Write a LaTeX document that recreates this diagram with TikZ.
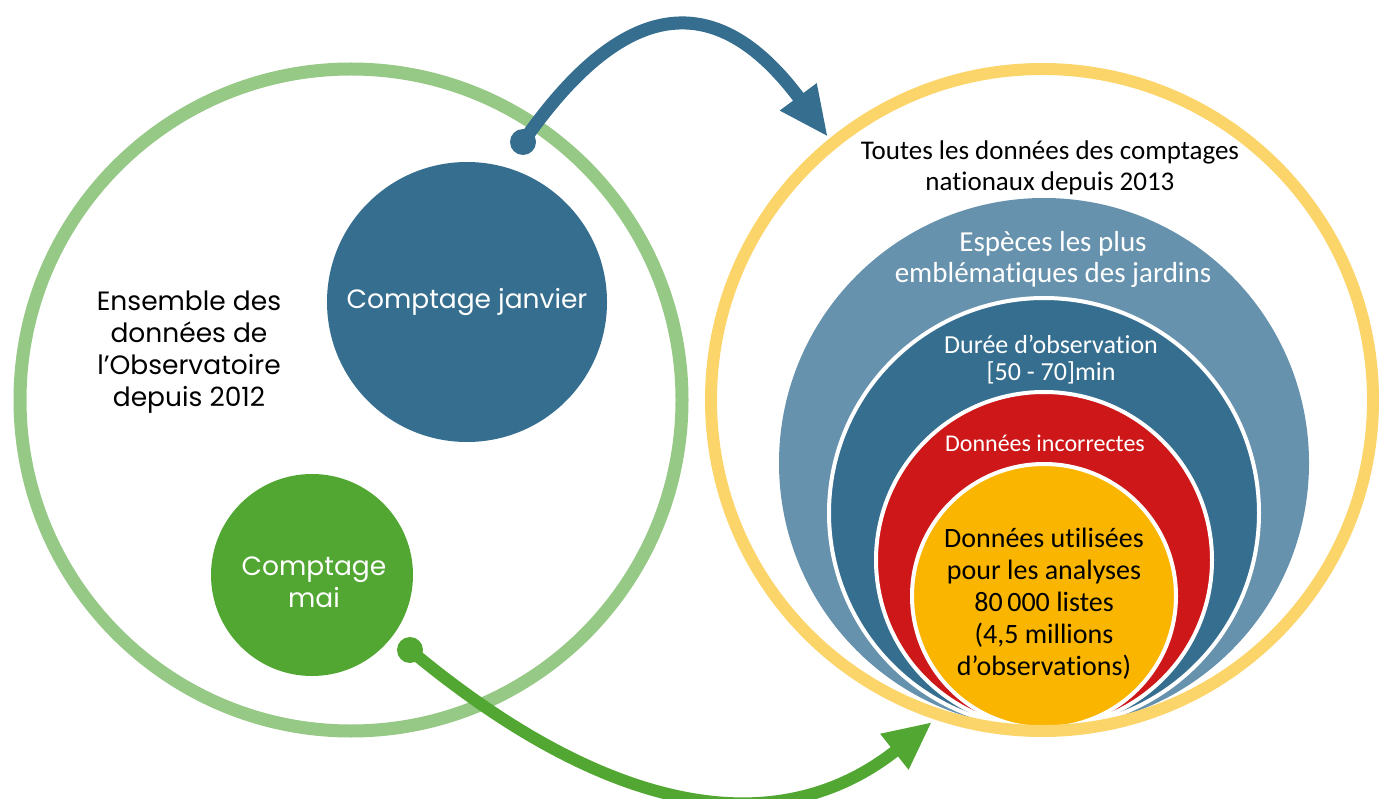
\documentclass[tikz,border=0pt]{standalone}
\usepackage{fontspec}
\setmainfont{Carlito}[Ligatures=NoCommon]
\newfontfamily\leftfont{Poppins}
\usetikzlibrary{arrows.meta}

\definecolor{ringgreen}{RGB}{151,201,134}
\definecolor{janblue}{RGB}{54,110,143}
\definecolor{maigreen}{RGB}{82,167,51}
\definecolor{ringyellow}{RGB}{251,212,106}
\definecolor{steelblue}{RGB}{102,146,173}
\definecolor{filtred}{RGB}{205,23,25}
\definecolor{usedorange}{RGB}{249,181,0}

\tikzset{
  disc/.style={circle,inner sep=0pt,align=center},
  layer/.style={disc,draw=white,line width=4pt},
  dot/.style={circle,inner sep=0pt,minimum size=26pt},
  lefttxt/.style={align=center,font=\leftfont\fontsize{26.5}{32}\selectfont},
  righttxt/.style={align=center,font=\fontsize{27}{31}\selectfont}
}

\begin{document}
\begin{tikzpicture}[x=1pt,y=-1pt]
    \useasboundingbox (0,0) rectangle (1379,799);

    % Cercle gauche
    \draw[ringgreen,line width=13pt] (351,400) circle (331);
    \node[lefttxt] (ensemble) at (189,352) {Ensemble des\\données de\\l’Observatoire\\depuis 2012};
    \node[disc,fill=janblue,minimum size=280pt] (janvier) at (467,302) {};
    \node[lefttxt,text=white] (janviertxt) at (467,302) {Comptage janvier};
    \node[disc,fill=maigreen,minimum size=202pt] (mai) at (312,575) {};
    \node[lefttxt,text=white] (maitxt) at (314,582) {Comptage\\mai};

    % Cercle droit
    \node[disc,fill=steelblue,minimum size=530pt] (especes) at (1044,463) {};
    \node[layer,fill=janblue,minimum size=430pt] (duree) at (1044,513) {};
    \node[layer,fill=filtred,minimum size=336pt] (incorrect) at (1044,560) {};
    \node[layer,fill=usedorange,minimum size=264pt] (utilise) at (1044,596) {};
    \draw[ringyellow,line width=12pt] (1042,400) circle (331);

    \node[righttxt] (toutes) at (1050,168) {Toutes les données des comptages\\nationaux depuis 2013};
    \node[righttxt,text=white,font=\fontsize{29}{31}\selectfont] (especestxt) at (1053,259) {Espèces les plus\\emblématiques des jardins};
    \node[righttxt,text=white,font=\fontsize{26}{27}\selectfont] (dureetxt) at (1051,360) {Durée d’observation\\{}[50 - 70]min};
    \node[righttxt,text=white,font=\fontsize{24}{28}\selectfont] (incorrecttxt) at (1045,443) {Données incorrectes};
    \node[righttxt,font=\fontsize{28}{32}\selectfont] (utilisetxt) at (1044,604) {Données utilisées\\pour les analyses\\80\,000 listes\\(4,5 millions\\d’observations)};

    % Fleches
    \node[dot,fill=janblue] (dotjan) at (523,142) {};
    \coordinate (tipjan) at (828,137);
    \draw[janblue,line width=13pt,-{Triangle[length=50pt,width=42pt]}] (dotjan.center) .. controls (630,-12) and (722,-6) .. (tipjan);

    \node[dot,fill=maigreen] (dotmai) at (410,650) {};
    \coordinate (tipmai) at (932,722);
    \draw[maigreen,line width=12pt,-{Triangle[length=48pt,width=42pt]}] (dotmai.center) .. controls (579,791) and (760,858) .. (tipmai);
\end{tikzpicture}
\end{document}
